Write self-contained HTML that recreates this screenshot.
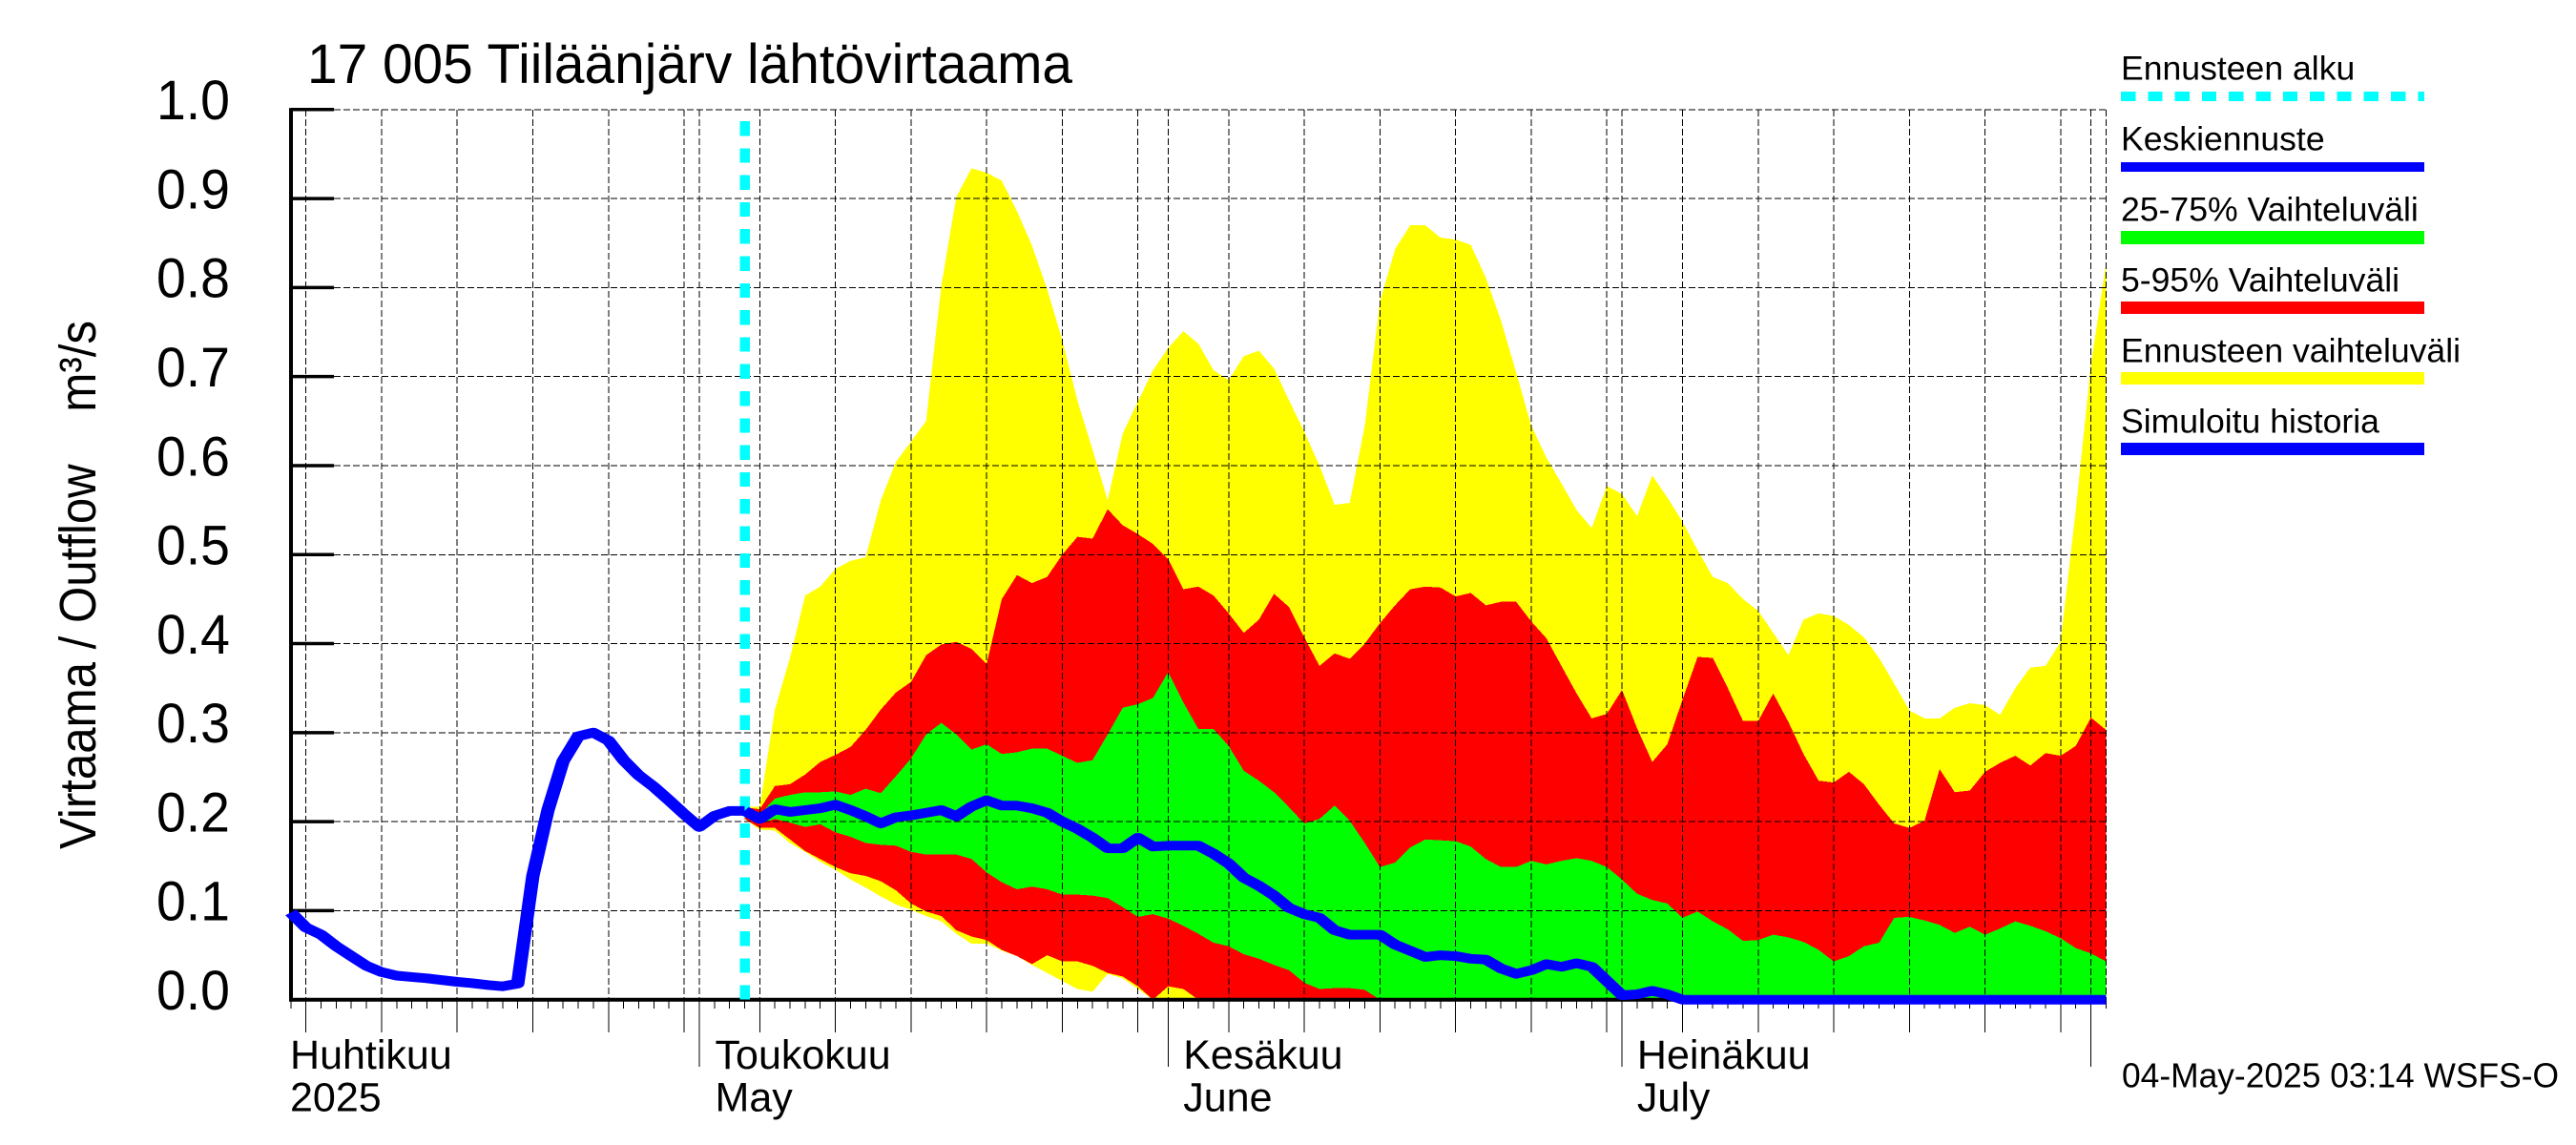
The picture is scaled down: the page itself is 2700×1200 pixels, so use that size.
<!DOCTYPE html>
<html lang="fi">
<head>
<meta charset="utf-8">
<title>17 005 Tiiläänjärv lähtövirtaama</title>
<style>
html,body{margin:0;padding:0;background:#fff;width:2700px;height:1200px;overflow:hidden}
svg{position:absolute;left:0;top:0;display:block}
text{font-family:"Liberation Sans",sans-serif;fill:#000;white-space:pre}
</style>
</head>
<body>
<svg id="chart" xmlns="http://www.w3.org/2000/svg" width="2700" height="1200" viewBox="0 0 2700 1200">
  <rect x="0" y="0" width="2700" height="1200" fill="#fff"/>
  <g id="bands"></g>
  <g id="grid"></g>
  <g id="axes"></g>
  <g id="series"></g>
  <g id="penLines" transform="scale(1.4,1)"></g>

  <text x="322" y="87" font-size="58" textLength="802" lengthAdjust="spacingAndGlyphs">17 005 Tiiläänjärv lähtövirtaama</text>
  <text transform="translate(100,890) rotate(-90)" font-size="54" textLength="554" lengthAdjust="spacingAndGlyphs">Virtaama / Outflow    m³/s</text>

  <g>
    <g>
      <text x="2223" y="83.5" font-size="35.6">Ennusteen alku</text>
      <line x1="2223" y1="101" x2="2541" y2="101" stroke="#00ffff" stroke-width="10" stroke-dasharray="15.3 13" shape-rendering="crispEdges"/>
    </g>
    <g>
      <text x="2223" y="157.3" font-size="35.6">Keskiennuste</text>
      <rect x="2223" y="170" width="318" height="10" fill="#0000ff"/>
    </g>
    <g>
      <text x="2223" y="231.7" font-size="35.6">25-75% Vaihteluväli</text>
      <rect x="2223" y="242" width="318" height="14" fill="#00ff00"/>
    </g>
    <g>
      <text x="2223" y="305.7" font-size="35.6">5-95% Vaihteluväli</text>
      <rect x="2223" y="316" width="318" height="13" fill="#ff0000"/>
    </g>
    <g>
      <text x="2223" y="379.3" font-size="35.6">Ennusteen vaihteluväli</text>
      <rect x="2223" y="390" width="318" height="13" fill="#ffff00"/>
    </g>
    <g>
      <text x="2223" y="453.3" font-size="35.6">Simuloitu historia</text>
      <rect x="2223" y="464" width="318" height="13" fill="#0000ff"/>
    </g>
  </g>

  <text x="2224" y="1139.3" font-size="36" textLength="458" lengthAdjust="spacingAndGlyphs">04-May-2025 03:14 WSFS-O</text>
</svg>

<script>
// Days are counted from 1 May 2025 (day 0).
const historyStartDay = -27;
const forecastStartDay = 3;
const forecastMarkerDay = 3.01;

const yTicks = [0.0, 0.1, 0.2, 0.3, 0.4, 0.5, 0.6, 0.7, 0.8, 0.9, 1.0];
const monthStartDays = [0, 31, 61, 92];
const fiveDayTicks = [-26, -21, -16, -11, -6, -1, 4, 9, 14, 19, 24, 29, 35, 40, 45, 50, 55, 60, 65, 70, 75, 80, 85, 90];
const monthNamesFi = ["Huhtikuu", "Toukokuu", "Kesäkuu", "Heinäkuu"];
const monthNamesEn = ["2025", "May", "June", "July"];
const monthLabelDays = [-27.05, 1.05, 32, 62];

const simulatedHistory = [
  .098,.081,.073,.060,.049,.038,.031,.027,.0255,.024,
  .022,.020,.0185,.0165,.015,.018,.139,.213,.268,.296,
  .300,.291,.269,.252,.239,.224,.2085,.194,.2065,.212,.212
];

const meanForecast = [
  .212,.203,.214,.211,.213,.215,.219,.213,.206,.198,
  .205,.207,.210,.213,.206,.217,.224,.218,.218,.215,
  .210,.200,.192,.182,.170,.170,.182,.172,.173,.173,
  .173,.164,.153,.137,.128,.117,.103,.096,.092,.078,
  .073,.073,.073,.062,.055,.048,.050,.049,.046,.045,
  .035,.029,.033,.040,.037,.041,.037,.021,.005,.006,
  .010,.006,0,0,0,0,0,0,0,0,
  0,0,0,0,0,0,0,0,0,0,
  0,0,0,0,0,0,0,0,0,0,
  0
];

const rangeMax = [
  .217,.217,.326,.384,.454,.464,.484,.493,.497,.561,
  .604,.627,.650,.802,.902,.934,.929,.920,.886,.847,
  .798,.741,.673,.618,.561,.636,.672,.707,.732,.751,
  .737,.707,.696,.723,.729,.709,.673,.638,.600,.556,
  .558,.645,.784,.843,.870,.870,.856,.854,.848,.811,
  .763,.705,.645,.609,.580,.550,.530,.577,.568,.543,
  .589,.564,.537,.505,.475,.468,.450,.437,.412,.387,
  .427,.434,.431,.421,.407,.384,.355,.325,.316,.316,
  .328,.333,.331,.320,.350,.373,.375,.402,.550,.713,
  .827
];

const rangeMin = [
  .203,.191,.190,.176,.166,.155,.146,.135,.126,.116,
  .107,.101,.094,.088,.074,.063,.063,.055,.049,.039,
  .030,.021,.012,.009,.029,.024,.012,0,0,0,
  0,0,0,0,0,0,0,0,0,0,
  0,0,0,0,0,0,0,0,0,0,
  0,0,0,0,0,0,0,0,0,0,
  0,0,0,0,0,0,0,0,0,0,
  0,0,0,0,0,0,0,0,0,0,
  0,0,0,0,0,0,0,0,0,0,
  0
];

const p95 = [
  .216,.214,.240,.242,.253,.267,.275,.284,.303,.326,
  .345,.357,.387,.399,.402,.394,.377,.450,.477,.468,
  .475,.500,.520,.518,.551,.533,.523,.512,.495,.461,
  .464,.454,.434,.412,.427,.456,.441,.407,.375,.389,
  .383,.400,.423,.443,.461,.464,.463,.453,.457,.443,
  .447,.447,.425,.406,.375,.344,.316,.321,.348,.305,
  .267,.287,.337,.385,.384,.350,.313,.313,.344,.312,
  .276,.246,.244,.256,.242,.219,.198,.193,.201,.259,
  .233,.235,.256,.266,.274,.263,.277,.274,.285,.317,
  .303
];

const p5 = [
  .203,.193,.193,.180,.167,.158,.149,.142,.139,.133,
  .123,.108,.099,.094,.078,.071,.067,.056,.049,.040,
  .050,.043,.043,.038,.030,.026,.015,0,.015,.012,
  0,0,0,0,0,0,0,0,0,0,
  0,0,0,0,0,0,0,0,0,0,
  0,0,0,0,0,0,0,0,0,0,
  0,0,0,0,0,0,0,0,0,0,
  0,0,0,0,0,0,0,0,0,0,
  0,0,0,0,0,0,0,0,0,0,
  0
];

const p75 = [
  .214,.208,.226,.230,.233,.233,.234,.230,.237,.232,
  .251,.271,.298,.311,.298,.281,.287,.276,.278,.282,
  .282,.274,.266,.269,.298,.328,.332,.339,.368,.334,
  .304,.304,.285,.257,.246,.233,.216,.198,.203,.218,
  .201,.176,.149,.154,.171,.180,.179,.178,.172,.158,
  .149,.149,.156,.152,.156,.159,.156,.149,.135,.119,
  .112,.108,.092,.099,.088,.079,.066,.067,.073,.070,
  .065,.056,.043,.049,.060,.064,.092,.093,.089,.084,
  .075,.082,.073,.080,.088,.083,.077,.069,.058,.052,
  .043
];

const p25 = [
  .205,.198,.203,.199,.194,.197,.188,.183,.176,.174,
  .173,.166,.163,.163,.163,.158,.143,.132,.124,.127,
  .124,.118,.118,.117,.114,.104,.093,.096,.091,.083,
  .074,.064,.060,.051,.046,.039,.033,.019,.012,.013,
  .013,.011,0,0,0,0,0,0,0,0,
  0,0,0,0,0,0,0,0,0,0,
  0,0,0,0,0,0,0,0,0,0,
  0,0,0,0,0,0,0,0,0,0,
  0,0,0,0,0,0,0,0,0,0,
  0
];

const SVG_NS = "http://www.w3.org/2000/svg";
const PLOT_LEFT = 305;
const PLOT_RIGHT = 2207.5;
const PLOT_TOP = 114.8;
const PLOT_BOTTOM = 1047.7;
const PEN_STRETCH = 1.4;

function xScale(day) { return 732.9 + 15.855 * day; }
function yScale(value) { return PLOT_BOTTOM - (PLOT_BOTTOM - PLOT_TOP) * value; }
function make(tag, parent) {
  const el = document.createElementNS(SVG_NS, tag);
  parent.appendChild(el);
  return el;
}
function bandPoints(upper, lower) {
  const pts = [];
  upper.forEach(function (v, i) { pts.push(xScale(forecastStartDay + i).toFixed(1) + "," + yScale(v).toFixed(1)); });
  for (let i = lower.length - 1; i >= 0; i--) { pts.push(xScale(forecastStartDay + i).toFixed(1) + "," + yScale(lower[i]).toFixed(1)); }
  return pts.join(" ");
}
// The flow lines sit in a group stretched horizontally, giving the wide pen of the original plot.
function penLinePoints(values, startDay) {
  return values.map(function (v, i) { return (xScale(startDay + i) / PEN_STRETCH).toFixed(2) + "," + yScale(v).toFixed(1); }).join(" ");
}

const bands = document.getElementById("bands");
const grid = document.getElementById("grid");
const axes = document.getElementById("axes");
const series = document.getElementById("series");
const penLines = document.getElementById("penLines");

// Bands
const yellowBand = make("polygon", bands);


yellowBand.setAttribute("points", bandPoints(rangeMax, rangeMin));
yellowBand.setAttribute("fill", "#ffff00");
yellowBand.setAttribute("shape-rendering", "crispEdges");

const redBand = make("polygon", bands);


redBand.setAttribute("points", bandPoints(p95, p5));
redBand.setAttribute("fill", "#ff0000");
redBand.setAttribute("shape-rendering", "crispEdges");

const greenBand = make("polygon", bands);


greenBand.setAttribute("points", bandPoints(p75, p25));
greenBand.setAttribute("fill", "#00ff00");
greenBand.setAttribute("shape-rendering", "crispEdges");

// Horizontal grid lines and y ticks
yTicks.forEach(function (t) {
  const y = yScale(t);
  if (t > 0) {
    const g = make("line", grid);
    
    
    g.setAttribute("x1", 350);
    g.setAttribute("x2", PLOT_RIGHT);
    g.setAttribute("y1", y);
    g.setAttribute("y2", y);
    g.setAttribute("stroke", "#000");
    g.setAttribute("stroke-width", "1");
    g.setAttribute("stroke-dasharray", "7 3");
    g.setAttribute("shape-rendering", "crispEdges");
  }
  const tick = make("line", axes);
  
  
  tick.setAttribute("x1", PLOT_LEFT);
  tick.setAttribute("x2", 350);
  tick.setAttribute("y1", y);
  tick.setAttribute("y2", y);
  tick.setAttribute("stroke", "#000");
  tick.setAttribute("stroke-width", "3.5");
  const label = make("text", axes);
  
  
  label.setAttribute("x", 241);
  label.setAttribute("y", y + 10.3);
  label.setAttribute("font-size", "58");
  label.setAttribute("text-anchor", "end");
  label.setAttribute("textLength", "77");
  label.setAttribute("lengthAdjust", "spacingAndGlyphs");
  label.textContent = t.toFixed(1);
});

// Vertical grid lines
fiveDayTicks.concat(monthStartDays).forEach(function (d) {
  const x = xScale(d);
  const g = make("line", grid);
  
  
  g.setAttribute("x1", x);
  g.setAttribute("x2", x);
  g.setAttribute("y1", PLOT_TOP);
  g.setAttribute("y2", PLOT_BOTTOM);
  g.setAttribute("stroke", "#000");
  g.setAttribute("stroke-width", "1");
  g.setAttribute("stroke-dasharray", "7 3");
  g.setAttribute("shape-rendering", "crispEdges");
});
const rightEdge = make("line", grid);


rightEdge.setAttribute("x1", PLOT_RIGHT);
rightEdge.setAttribute("x2", PLOT_RIGHT);
rightEdge.setAttribute("y1", PLOT_TOP);
rightEdge.setAttribute("y2", PLOT_BOTTOM);
rightEdge.setAttribute("stroke", "#000");
rightEdge.setAttribute("stroke-width", "1");
rightEdge.setAttribute("stroke-dasharray", "7 3");
rightEdge.setAttribute("shape-rendering", "crispEdges");

// Axis lines
const yAxis = make("line", axes);


yAxis.setAttribute("x1", PLOT_LEFT);
yAxis.setAttribute("x2", PLOT_LEFT);
yAxis.setAttribute("y1", PLOT_TOP - 1.7);
yAxis.setAttribute("y2", PLOT_BOTTOM + 2);
yAxis.setAttribute("stroke", "#000");
yAxis.setAttribute("stroke-width", "4");

const xAxis = make("line", axes);


xAxis.setAttribute("x1", PLOT_LEFT);
xAxis.setAttribute("x2", PLOT_RIGHT);
xAxis.setAttribute("y1", PLOT_BOTTOM);
xAxis.setAttribute("y2", PLOT_BOTTOM);
xAxis.setAttribute("stroke", "#000");
xAxis.setAttribute("stroke-width", "4");

// X ticks: daily minor, five-day and month-start long ticks
for (let d = historyStartDay; d <= 93; d++) {
  const isMonth = monthStartDays.indexOf(d) >= 0;
  const isFive = fiveDayTicks.indexOf(d) >= 0;
  const tick = make("line", axes);
  
  
  tick.setAttribute("x1", xScale(d));
  tick.setAttribute("x2", xScale(d));
  tick.setAttribute("y1", PLOT_BOTTOM);
  tick.setAttribute("y2", isMonth ? 1118 : (isFive ? 1082 : 1057));
  tick.setAttribute("stroke", "#000");
  tick.setAttribute("stroke-width", "1");
  tick.setAttribute("shape-rendering", "crispEdges");
}

// Month labels
monthNamesFi.forEach(function (name, i) {
  const fi = make("text", axes);
  
  
  fi.setAttribute("x", xScale(monthLabelDays[i]));
  fi.setAttribute("y", 1120);
  fi.setAttribute("font-size", "43");
  fi.textContent = name;
  const en = make("text", axes);
  
  
  en.setAttribute("x", xScale(monthLabelDays[i]));
  en.setAttribute("y", 1164.5);
  en.setAttribute("font-size", "43");
  en.textContent = monthNamesEn[i];
});

// Forecast start marker
const marker = make("line", series);


marker.setAttribute("x1", xScale(forecastMarkerDay));
marker.setAttribute("x2", xScale(forecastMarkerDay));
marker.setAttribute("y1", 127);
marker.setAttribute("y2", PLOT_BOTTOM);
marker.setAttribute("stroke", "#00ffff");
marker.setAttribute("stroke-width", "10.5");
marker.setAttribute("stroke-dasharray", "15.3 13");
marker.setAttribute("shape-rendering", "crispEdges");

// Flow lines
const historyLine = make("polyline", penLines);


historyLine.setAttribute("points", penLinePoints(simulatedHistory, historyStartDay));
historyLine.setAttribute("fill", "none");
historyLine.setAttribute("stroke", "#0000ff");
historyLine.setAttribute("stroke-width", "10");
historyLine.setAttribute("stroke-linejoin", "round");

const forecastLine = make("polyline", penLines);


forecastLine.setAttribute("points", penLinePoints(meanForecast, forecastStartDay));
forecastLine.setAttribute("fill", "none");
forecastLine.setAttribute("stroke", "#0000ff");
forecastLine.setAttribute("stroke-width", "10");
forecastLine.setAttribute("stroke-linejoin", "round");
</script>
</body>
</html>
